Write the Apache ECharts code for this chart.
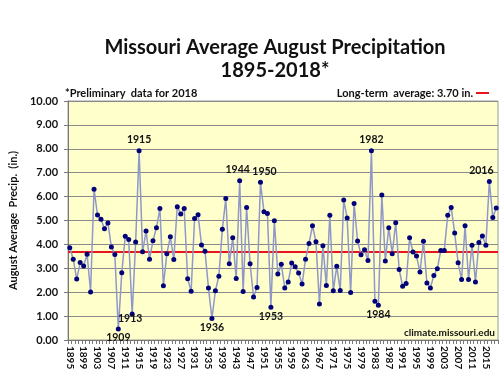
<!DOCTYPE html>
<html>
<head>
<meta charset="utf-8">
<script src="https://cdn.jsdelivr.net/npm/echarts@6/dist/echarts.min.js"></script>
<style>html,body{margin:0;padding:0;background:#fff;}#c{width:500px;height:375px;}</style>
</head>
<body>
<div id="c"></div>
<script>
const years = [];
for (let y = 1895; y <= 2018; y++) years.push(String(y));
const precip = [
  3.86, 3.38, 2.55, 3.24, 3.10, 3.59, 2.01, 6.31, 5.23, 5.05,
  4.66, 4.90, 3.89, 3.58, 0.46, 2.81, 4.34, 4.20, 1.09, 4.10,
  7.92, 3.69, 4.56, 3.38, 4.15, 4.70, 5.50, 2.27, 3.61, 4.32,
  3.37, 5.58, 5.27, 5.50, 2.56, 2.04, 5.08, 5.24, 3.97, 3.71,
  2.18, 0.90, 2.06, 2.67, 4.63, 5.92, 3.19, 4.28, 2.57, 6.66,
  2.03, 5.54, 3.19, 1.80, 2.20, 6.60, 5.37, 5.29, 1.37, 4.99,
  2.76, 3.17, 2.18, 2.43, 3.22, 3.06, 2.80, 2.34, 3.38, 4.04,
  4.78, 4.11, 1.51, 3.94, 2.28, 5.22, 2.06, 3.09, 2.07, 5.86,
  5.10, 1.99, 5.71, 4.14, 3.57, 3.78, 3.33, 7.92, 1.62, 1.45,
  6.07, 3.31, 4.70, 3.61, 4.91, 2.95, 2.25, 2.36, 4.28, 3.68,
  3.51, 2.84, 4.13, 2.39, 2.18, 2.70, 2.98, 3.75, 3.75, 5.22,
  5.54, 4.48, 3.23, 2.53, 4.78, 2.53, 3.96, 2.43, 4.08, 4.35,
  3.96, 6.63, 5.13, 5.52
];
const longTermAverage = 3.70;
const labelledYears = ['1909','1913','1915','1936','1944','1950','1953','1982','1984','2016'];
const yTicks = [0,1,2,3,4,5,6,7,8,9,10];

const labelShift = {
  '1913': [-2, -4],
  '1944': [-2, 0],
  '1950': [4, 0],
  '2016': [-8, 0]
};
const FONT = 'Lato, "Open Sans", sans-serif';

const seriesData = precip.map((v, i) => {
  const yr = years[i];
  if (labelledYears.indexOf(yr) < 0) return v;
  const top = v > longTermAverage;
  return {
    value: v,
    label: {
      show: true, formatter: yr, position: top ? 'top' : 'bottom',
      distance: top ? 3 : 1, fontFamily: FONT, fontWeight: 'bold', fontSize: 10.5, color: '#111'
    }
  };
});

const chart = echarts.init(document.getElementById('c'), null, {renderer: 'canvas'});
chart.setOption({
  animation: false,
  backgroundColor: '#ffffff',
  grid: {left: 63, right: 2, top: 101, bottom: 35, show: true, backgroundColor: '#ffffcc', borderColor: '#9a9a9a', borderWidth: 1},
  graphic: [
    {type: 'text', x: 275, y: 48, style: {text: 'Missouri Average August Precipitation', font: 'bold 20px ' + FONT, fill: '#111', textAlign: 'center', textVerticalAlign: 'middle'}},
    {type: 'text', x: 275, y: 71, style: {text: '1895-2018*', font: 'bold 20px ' + FONT, fill: '#111', textAlign: 'center', textVerticalAlign: 'middle'}},
    {type: 'text', x: 65, y: 93, style: {text: '*Preliminary  data for 2018', font: 'bold 11px ' + FONT, fill: '#111', textAlign: 'left', textVerticalAlign: 'middle'}},
    {type: 'text', x: 473, y: 93, style: {text: 'Long-term  average: 3.70 in.', font: 'bold 11px ' + FONT, fill: '#111', textAlign: 'right', textVerticalAlign: 'middle'}},
    {type: 'line', shape: {x1: 476, y1: 93, x2: 489, y2: 93}, style: {stroke: '#e8141e', lineWidth: 2}},
    {type: 'text', x: 495, y: 333, z: 100, style: {text: 'climate.missouri.edu', font: 'bold 10px ' + FONT, fill: '#111', textAlign: 'right', textVerticalAlign: 'middle'}}
  ],
  xAxis: {
    type: 'category', data: years, boundaryGap: true,
    axisLine: {lineStyle: {color: '#777', width: 1}},
    axisTick: {show: true, interval: 0, length: 4, lineStyle: {color: '#777'}},
    axisLabel: {interval: 3, rotate: -90, fontFamily: FONT, fontWeight: 'bold', fontSize: 10, color: '#111', margin: 6},
    splitLine: {show: false}
  },
  yAxis: {
    type: 'value', min: yTicks[0], max: yTicks[yTicks.length - 1], interval: 1,
    name: 'August Average  Precip.  (in.)', nameLocation: 'middle', nameGap: 46, nameRotate: 90,
    nameTextStyle: {fontFamily: FONT, fontWeight: 'bold', fontSize: 11, color: '#111'},
    axisLine: {show: true, lineStyle: {color: '#777'}},
    axisTick: {show: true, length: 4, lineStyle: {color: '#777'}},
    axisLabel: {formatter: v => v.toFixed(2), fontFamily: FONT, fontWeight: 'bold', fontSize: 11, color: '#111', margin: 10},
    splitLine: {show: true, lineStyle: {color: '#8a8a8a', width: 1}}
  },
  series: [{
    type: 'line', data: seriesData,
    symbol: 'circle', symbolSize: 5, showAllSymbol: true,
    itemStyle: {color: '#00007a'},
    lineStyle: {color: '#8f98c8', width: 1.5},
    labelLayout: function (params) {
      const sh = labelShift[years[params.dataIndex]] || [0, 0];
      return {hideOverlap: false, dx: sh[0], dy: sh[1]};
    },
    z: 3,
    markLine: {
      silent: true, symbol: 'none', label: {show: false},
      lineStyle: {color: '#e8141e', width: 2, type: 'solid'},
      data: [{yAxis: longTermAverage}],
      z: 2
    }
  }]
});
</script>
</body>
</html>
